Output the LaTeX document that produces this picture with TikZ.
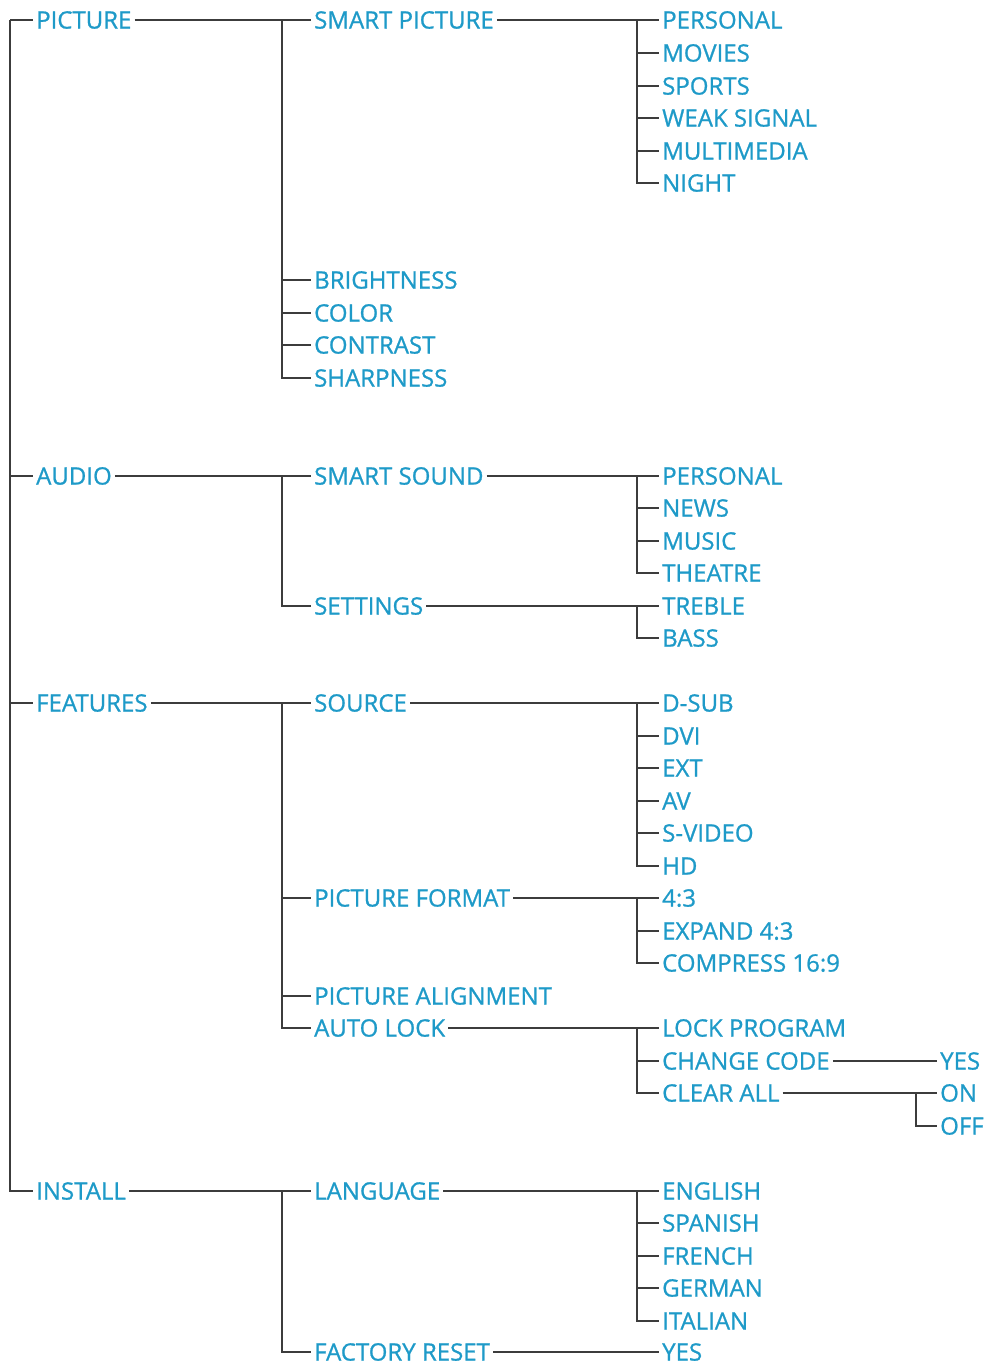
\documentclass[tikz,border=0pt]{standalone}
\usepackage{fontspec}
\setmainfont{Open Sans}[FakeBold=0.9]
\usepackage{tikz}
\usetikzlibrary{calc}
\usetikzlibrary{positioning}
\definecolor{menublue}{HTML}{1E9AC8}
\definecolor{linegray}{HTML}{3C3C3C}

\begin{document}
\begin{tikzpicture}[x=0.75pt, y=-0.75pt,
  every node/.style={anchor=west, inner xsep=2.2pt, inner ysep=0pt, text height=12.85pt, text depth=0pt,
    text=menublue, font=\fontsize{18}{18}\selectfont},
  branch/.style={draw=linegray, line width=1.5pt}]
\useasboundingbox (0,0) rectangle (990,1366);
% level 1
\node (picture) at (33,20) {PICTURE};
\node (audio) at (33,476) {AUDIO};
\node (features) at (33,703) {FEATURES};
\node (install) at (33,1191) {INSTALL};
% level 2
\node (smartpic) at (311,20) {SMART PICTURE};
\node (brightness) at (311,280) {BRIGHTNESS};
\node (color) at (311,313) {COLOR};
\node (contrast) at (311,345) {CONTRAST};
\node (sharpness) at (311,378) {SHARPNESS};
\node (smartsound) at (311,476) {SMART SOUND};
\node (settings) at (311,606) {SETTINGS};
\node (source) at (311,703) {SOURCE};
\node (picformat) at (311,898) {PICTURE FORMAT};
\node (picalign) at (311,996) {PICTURE ALIGNMENT};
\node (autolock) at (311,1028) {AUTO LOCK};
\node (language) at (311,1191) {LANGUAGE};
\node (factoryreset) at (311,1352) {FACTORY RESET};
% level 3
\node (personal) at (659,20) {PERSONAL};
\node (movies) at (659,53) {MOVIES};
\node (sports) at (659,86) {SPORTS};
\node (weaksignal) at (659,118) {WEAK SIGNAL};
\node (multimedia) at (659,151) {MULTIMEDIA};
\node (night) at (659,183) {NIGHT};
\node (spersonal) at (659,476) {PERSONAL};
\node (news) at (659,508) {NEWS};
\node (music) at (659,541) {MUSIC};
\node (theatre) at (659,573) {THEATRE};
\node (treble) at (659,606) {TREBLE};
\node (bass) at (659,638) {BASS};
\node (dsub) at (659,703) {D-SUB};
\node (dvi) at (659,736) {DVI};
\node (ext) at (659,768) {EXT};
\node (av) at (659,801) {AV};
\node (svideo) at (659,833) {S-VIDEO};
\node (hd) at (659,866) {HD};
\node (fourthree) at (659,898) {4:3};
\node (expand) at (659,931) {EXPAND 4:3};
\node (compress) at (659,963) {COMPRESS 16:9};
\node (lockprog) at (659,1028) {LOCK PROGRAM};
\node (changecode) at (659,1061) {CHANGE CODE};
\node (clearall) at (659,1093) {CLEAR ALL};
\node (english) at (659,1191) {ENGLISH};
\node (spanish) at (659,1223) {SPANISH};
\node (french) at (659,1256) {FRENCH};
\node (german) at (659,1288) {GERMAN};
\node (italian) at (659,1321) {ITALIAN};
\node (resetyes) at (659,1352) {YES};
% level 4
\node (codeyes) at (937,1061) {YES};
\node (on) at (937,1093) {ON};
\node (off) at (937,1126) {OFF};
% branch points
\coordinate (root) at (10,20);
\coordinate (bpicture) at (282,20);
\coordinate (baudio) at (282,476);
\coordinate (bfeatures) at (282,703);
\coordinate (binstall) at (282,1191);
\coordinate (bsmartpic) at (637,20);
\coordinate (bsmartsound) at (637,476);
\coordinate (bsettings) at (637,606);
\coordinate (bsource) at (637,703);
\coordinate (bpicformat) at (637,898);
\coordinate (bautolock) at (637,1028);
\coordinate (blanguage) at (637,1191);
\coordinate (bclearall) at (916,1093);
% connectors
\foreach \n in {picture,audio,features,install}
  \draw[branch] (root) |- (\n.west);
\draw[branch] (picture) -- (smartpic);
\foreach \n in {brightness,color,contrast,sharpness}
  \draw[branch] (bpicture) |- (\n.west);
\draw[branch] (audio) -- (smartsound);
\draw[branch] (baudio) |- (settings.west);
\draw[branch] (features) -- (source);
\foreach \n in {picformat,picalign,autolock}
  \draw[branch] (bfeatures) |- (\n.west);
\draw[branch] (install) -- (language);
\draw[branch] (binstall) |- (factoryreset.west);
\draw[branch] (smartpic) -- (personal);
\foreach \n in {movies,sports,weaksignal,multimedia,night}
  \draw[branch] (bsmartpic) |- (\n.west);
\draw[branch] (smartsound) -- (spersonal);
\foreach \n in {news,music,theatre}
  \draw[branch] (bsmartsound) |- (\n.west);
\draw[branch] (settings) -- (treble);
\draw[branch] (bsettings) |- (bass.west);
\draw[branch] (source) -- (dsub);
\foreach \n in {dvi,ext,av,svideo,hd}
  \draw[branch] (bsource) |- (\n.west);
\draw[branch] (picformat) -- (fourthree);
\foreach \n in {expand,compress}
  \draw[branch] (bpicformat) |- (\n.west);
\draw[branch] (autolock) -- (lockprog);
\foreach \n in {changecode,clearall}
  \draw[branch] (bautolock) |- (\n.west);
\draw[branch] (language) -- (english);
\foreach \n in {spanish,french,german,italian}
  \draw[branch] (blanguage) |- (\n.west);
\draw[branch] (factoryreset) -- (resetyes);
\draw[branch] (changecode) -- (codeyes);
\draw[branch] (clearall) -- (on);
\draw[branch] (bclearall) |- (off.west);
\end{tikzpicture}
\end{document}
